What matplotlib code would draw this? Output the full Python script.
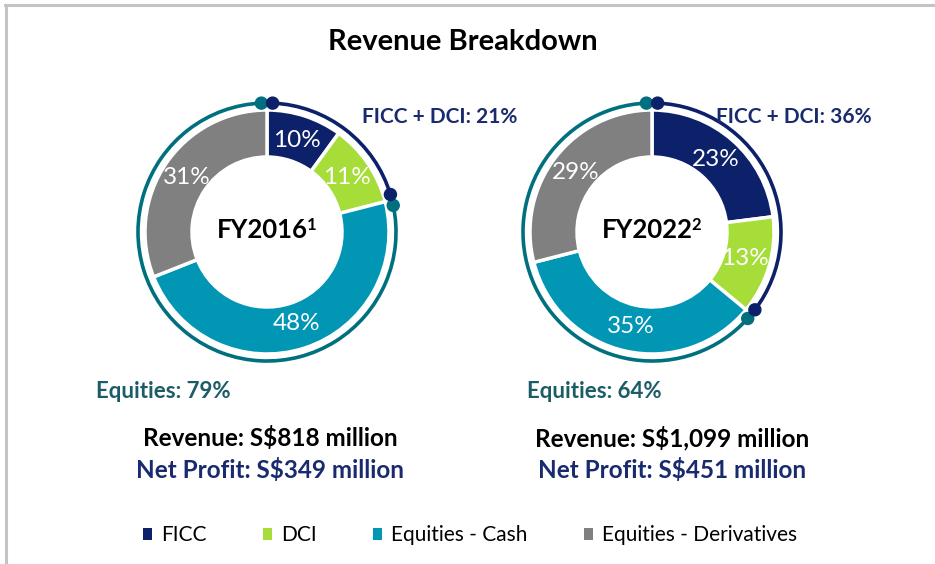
import matplotlib
matplotlib.use("Agg")
import matplotlib.pyplot as plt
from matplotlib.patches import Arc, Circle, Patch
from matplotlib.lines import Line2D
import numpy as np

plt.rcParams['font.family'] = ['Lato', 'DejaVu Sans']

# ---------------- data ----------------
categories = ["FICC", "DCI", "Equities - Cash", "Equities - Derivatives"]
fy2016_values = [10, 11, 48, 31]
fy2022_values = [23, 13, 35, 29]
years = ["FY2016", "FY2022"]
footnotes = ["1", "2"]
ficc_dci_labels = ["FICC + DCI: 21%", "FICC + DCI: 36%"]
equities_labels = ["Equities: 79%", "Equities: 64%"]
revenue_labels = ["Revenue: S$818 million", "Revenue: S$1,099 million"]
profit_labels = ["Net Profit: S$349 million", "Net Profit: S$451 million"]
title = "Revenue Breakdown"

colors = ["#0c216a", "#a6dd38", "#0096b4", "#808080"]
ring_teal = "#00707f"
ring_navy = "#0c216a"
eq_text_color = "#1b5c66"
navy_text = "#1a2a6e"

W, H = 935, 564
fig = plt.figure(figsize=(W / 100, H / 100), dpi=100)
ax = fig.add_axes([0, 0, 1, 1])

# border (top and left grey lines)
fig.add_artist(Line2D([5 / W, 1], [1 - 5 / H, 1 - 5 / H], color="#c4c4c4", lw=2.2,
                      transform=fig.transFigure))
fig.add_artist(Line2D([6 / W, 6 / W], [0, 1 - 5 / H], color="#c4c4c4", lw=2.2,
                      transform=fig.transFigure))

ax.text(463, H - 42, title, ha='center', va='center', fontsize=21,
        fontweight='bold', color='black')

centers = [(267, H - 232), (652, H - 232)]
R_OUT = 122
WIDTH = 47
R_RING = 129
all_values = [fy2016_values, fy2022_values]

for i, (vals, c) in enumerate(zip(all_values, centers)):
    wedges, texts, autotexts = ax.pie(
        vals, colors=colors, startangle=90, counterclock=False,
        center=c, radius=R_OUT, autopct=lambda p: f"{p:.0f}%",
        pctdistance=0.79,
        wedgeprops=dict(width=WIDTH, edgecolor='white', linewidth=2.5),
        textprops=dict(color='white', fontsize=17.5), frame=True)
    # split angle between FICC+DCI and Equities
    frac = (vals[0] + vals[1]) / sum(vals)
    split = 90 - 360 * frac
    gap = 2.5
    # equities arc (teal) from top counter-clockwise to split point
    ax.add_patch(Arc(c, 2 * R_RING, 2 * R_RING, theta1=90 + gap,
                     theta2=split + 360 - gap, color=ring_teal, lw=2.6, zorder=3))
    # FICC+DCI arc (navy)
    ax.add_patch(Arc(c, 2 * R_RING, 2 * R_RING, theta1=split + gap,
                     theta2=90 - gap, color=ring_navy, lw=2.6, zorder=3))
    for ang in (90 + gap, split - gap):
        a = np.deg2rad(ang)
        ax.add_patch(Circle((c[0] + R_RING * np.cos(a), c[1] + R_RING * np.sin(a)),
                            6, color=ring_teal, zorder=4))
    for ang in (90 - gap, split + gap):
        a = np.deg2rad(ang)
        ax.add_patch(Circle((c[0] + R_RING * np.cos(a), c[1] + R_RING * np.sin(a)),
                            6, color=ring_navy, zorder=5))

    # centre label with superscript
    t = ax.text(c[0] - 5, c[1] + 2, years[i], ha='center', va='center',
                fontsize=18.5, fontweight='bold', color='black', zorder=6)
    ax.annotate(footnotes[i], xy=(1, 1), xycoords=t, xytext=(-0.5, 0.5),
                textcoords='offset points', ha='left', va='top', fontsize=12,
                fontweight='bold', color='black')

ax.set_xlim(0, W)
ax.set_ylim(0, H)
ax.set_aspect('equal')
ax.axis('off')

# annotations
ax.text(517, H - 117, ficc_dci_labels[0], ha='right', va='center', fontsize=15,
        fontweight='bold', color=navy_text)
ax.text(872, H - 117, ficc_dci_labels[1], ha='right', va='center', fontsize=15,
        fontweight='bold', color=navy_text)
ax.text(96, H - 392, equities_labels[0], ha='left', va='center', fontsize=16,
        fontweight='bold', color=eq_text_color)
ax.text(527, H - 392, equities_labels[1], ha='left', va='center', fontsize=16,
        fontweight='bold', color=eq_text_color)

for x, rev, prof in zip([270, 672], revenue_labels, profit_labels):
    ax.text(x, H - 438, rev, ha='center', va='center', fontsize=17.5,
            fontweight='bold', color='black')
    ax.text(x, H - 470, prof, ha='center', va='center', fontsize=17.5,
            fontweight='bold', color=navy_text)

handles = [Patch(facecolor=col, edgecolor='none') for col in colors]
fig.legend(handles, categories, loc='center', bbox_to_anchor=(0.503, 1 - 535 / H),
           ncol=4, frameon=False, fontsize=15, handlelength=0.42, handleheight=0.5,
           handletextpad=0.45, columnspacing=2.7)

fig.savefig("out.png", dpi=100)
